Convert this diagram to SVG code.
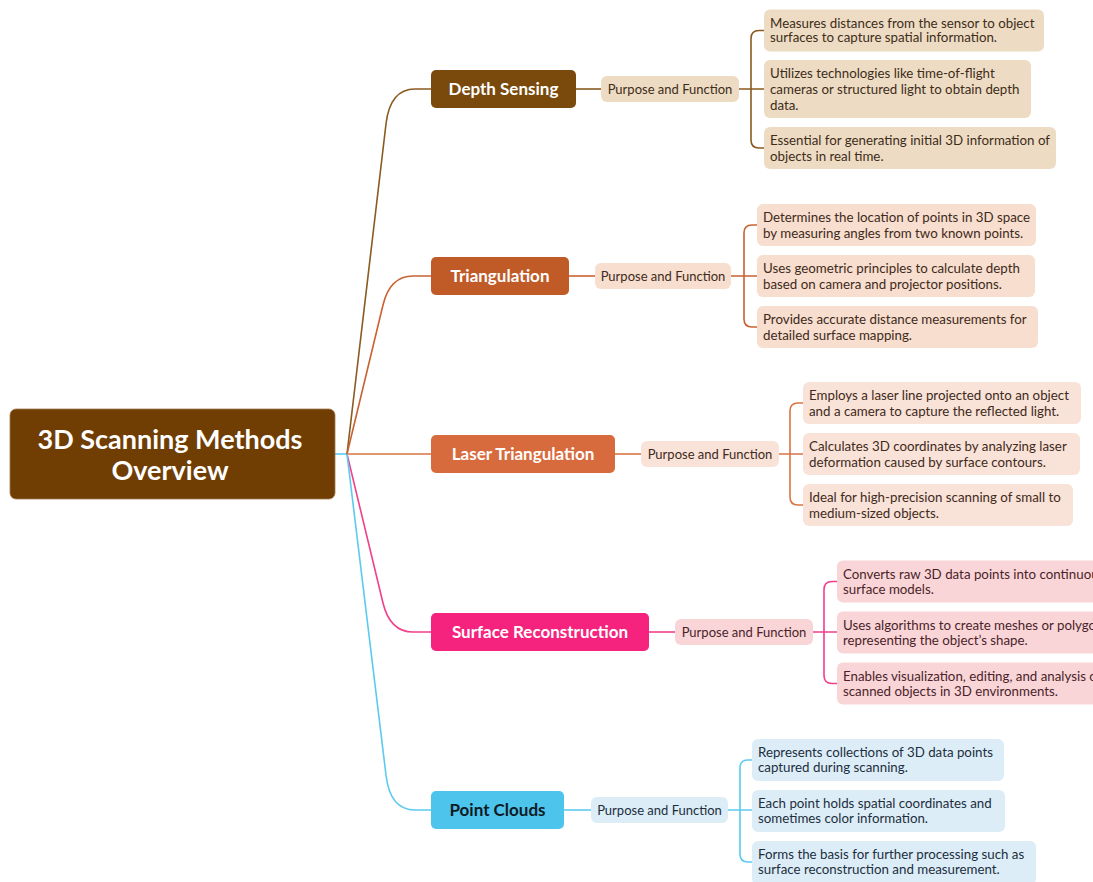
<svg xmlns="http://www.w3.org/2000/svg" width="1093" height="882" viewBox="0 0 1093 882">
<style>
  text { font-family: Lato, "Open Sans", "Liberation Sans", sans-serif; }
  .root-t { font-size: 27px; font-weight: 700; fill: #ffffff; text-anchor: middle; }
  .main-t { font-size: 17px; font-weight: 700; text-anchor: middle; }
  .pf-t { font-size: 13px; text-anchor: middle; }
  .leaf-t { font-size: 13.3px; }
  .conn { fill: none; stroke-width: 1.6; }
  .ds { fill: #eddcc3; } .ds-t { fill: #3e2c1a; } .ds-s { stroke: #8a5a20; }
  .tr { fill: #f7dece; } .tr-t { fill: #3e2a20; } .tr-s { stroke: #c86232; }
  .la { fill: #f9e2d7; } .la-t { fill: #3e2a20; } .la-s { stroke: #d97445; }
  .su { fill: #f9d5d7; } .su-t { fill: #4a1f2a; } .su-s { stroke: #f23f8a; }
  .pc { fill: #dcedf8; } .pc-t { fill: #1c2e3d; } .pc-s { stroke: #5ccaf0; }
</style>

<g id="connectors">
  <path class="conn pc-s" d="M335,454 H347"/>
  <path class="conn ds-s" d="M347,454 L386,124 Q390,89 415,89 H431"/>
  <path class="conn tr-s" d="M347,454 L383,305 Q390,276 413,276 H431"/>
  <path class="conn la-s" d="M347,454 H431"/>
  <path class="conn su-s" d="M347,454 L383,603 Q390,632 413,632 H431"/>
  <path class="conn pc-s" d="M347,454 L386,775 Q390,810 415,810 H431"/>

  <path class="conn ds-s" d="M576,89 H601"/>
  <path class="conn tr-s" d="M569,276 H595"/>
  <path class="conn la-s" d="M615,454 H641"/>
  <path class="conn su-s" d="M649,632 H675"/>
  <path class="conn pc-s" d="M564,810 H591"/>

  <path class="conn ds-s" d="M739,89 H764 M764,30.5 H759 Q751,30.5 751,38.5 V140 Q751,148 759,148 H764"/>
  <path class="conn tr-s" d="M731,276 H757 M757,225 H752 Q744,225 744,233 V319 Q744,327 752,327 H757"/>
  <path class="conn la-s" d="M779,454 H803 M803,403 H798 Q790,403 790,411 V497 Q790,505 798,505 H803"/>
  <path class="conn su-s" d="M813,632 H837 M837,581.5 H832 Q824,581.5 824,589.5 V675.5 Q824,683.5 832,683.5 H837"/>
  <path class="conn pc-s" d="M728,810 H752 M752,760 H748 Q740,760 740,768 V854 Q740,862 748,862 H752"/>
</g>

<g id="root">
  <rect x="10" y="409" width="325" height="90" rx="6" fill="#703d02" stroke="#a07850" stroke-width="0.8"/>
  <text class="root-t" x="170" y="449">3D Scanning Methods</text>
  <text class="root-t" x="170" y="480">Overview</text>
</g>

<!-- Depth Sensing -->
<g id="depth-sensing">
  <rect x="431" y="70" width="145" height="38" rx="5" fill="#7a4a0c"/>
  <text class="main-t" x="503.5" y="95" fill="#ffffff">Depth Sensing</text>
</g>
<g id="ds-pf">
  <rect class="ds" x="601" y="76" width="138" height="26" rx="6"/>
  <text class="pf-t ds-t" x="670" y="93.5">Purpose and Function</text>
</g>
<g id="ds-l1">
  <rect class="ds" x="764" y="9.5" width="280" height="42" rx="6"/>
  <text class="leaf-t ds-t" x="770" y="27.5">Measures distances from the sensor to object</text>
  <text class="leaf-t ds-t" x="770" y="42">surfaces to capture spatial information.</text>
</g>
<g id="ds-l2">
  <rect class="ds" x="764" y="60" width="267" height="58" rx="6"/>
  <text class="leaf-t ds-t" x="770" y="78">Utilizes technologies like time-of-flight</text>
  <text class="leaf-t ds-t" x="770" y="93.5">cameras or structured light to obtain depth</text>
  <text class="leaf-t ds-t" x="770" y="109.5">data.</text>
</g>
<g id="ds-l3">
  <rect class="ds" x="764" y="127" width="292" height="42" rx="6"/>
  <text class="leaf-t ds-t" x="770" y="145">Essential for generating initial 3D information of</text>
  <text class="leaf-t ds-t" x="770" y="160.5">objects in real time.</text>
</g>

<!-- Triangulation -->
<g id="triangulation">
  <rect x="431" y="257" width="138" height="38" rx="5" fill="#c05a27"/>
  <text class="main-t" x="500" y="282" fill="#ffffff">Triangulation</text>
</g>
<g id="tr-pf">
  <rect class="tr" x="595" y="263" width="136" height="26" rx="6"/>
  <text class="pf-t tr-t" x="663" y="280.5">Purpose and Function</text>
</g>
<g id="tr-l1">
  <rect class="tr" x="757" y="204" width="279" height="42" rx="6"/>
  <text class="leaf-t tr-t" x="763" y="222">Determines the location of points in 3D space</text>
  <text class="leaf-t tr-t" x="763" y="237.5">by measuring angles from two known points.</text>
</g>
<g id="tr-l2">
  <rect class="tr" x="757" y="255" width="278" height="42" rx="6"/>
  <text class="leaf-t tr-t" x="763" y="273">Uses geometric principles to calculate depth</text>
  <text class="leaf-t tr-t" x="763" y="288.5">based on camera and projector positions.</text>
</g>
<g id="tr-l3">
  <rect class="tr" x="757" y="306" width="281" height="42" rx="6"/>
  <text class="leaf-t tr-t" x="763" y="324">Provides accurate distance measurements for</text>
  <text class="leaf-t tr-t" x="763" y="339.5">detailed surface mapping.</text>
</g>

<!-- Laser Triangulation -->
<g id="laser-triangulation">
  <rect x="431" y="435" width="184" height="38" rx="5" fill="#d86b3d"/>
  <text class="main-t" x="523" y="460" fill="#ffffff">Laser Triangulation</text>
</g>
<g id="la-pf">
  <rect class="la" x="641" y="441" width="138" height="26" rx="6"/>
  <text class="pf-t la-t" x="710" y="458.5">Purpose and Function</text>
</g>
<g id="la-l1">
  <rect class="la" x="803" y="382" width="278" height="42" rx="6"/>
  <text class="leaf-t la-t" x="809" y="400">Employs a laser line projected onto an object</text>
  <text class="leaf-t la-t" x="809" y="415.5">and a camera to capture the reflected light.</text>
</g>
<g id="la-l2">
  <rect class="la" x="803" y="433" width="277" height="42" rx="6"/>
  <text class="leaf-t la-t" x="809" y="451">Calculates 3D coordinates by analyzing laser</text>
  <text class="leaf-t la-t" x="809" y="466.5">deformation caused by surface contours.</text>
</g>
<g id="la-l3">
  <rect class="la" x="803" y="484" width="270" height="42" rx="6"/>
  <text class="leaf-t la-t" x="809" y="502">Ideal for high-precision scanning of small to</text>
  <text class="leaf-t la-t" x="809" y="517.5">medium-sized objects.</text>
</g>

<!-- Surface Reconstruction -->
<g id="surface-reconstruction">
  <rect x="431" y="613" width="218" height="38" rx="5" fill="#f5237d"/>
  <text class="main-t" x="540" y="638" fill="#ffffff">Surface Reconstruction</text>
</g>
<g id="su-pf">
  <rect class="su" x="675" y="619" width="138" height="26" rx="6"/>
  <text class="pf-t su-t" x="744" y="636.5">Purpose and Function</text>
</g>
<g id="su-l1">
  <rect class="su" x="837" y="560.5" width="300" height="42" rx="6"/>
  <text class="leaf-t su-t" x="843" y="578.5">Converts raw 3D data points into continuous</text>
  <text class="leaf-t su-t" x="843" y="594">surface models.</text>
</g>
<g id="su-l2">
  <rect class="su" x="837" y="611.5" width="300" height="42" rx="6"/>
  <text class="leaf-t su-t" x="843" y="629.5">Uses algorithms to create meshes or polygons</text>
  <text class="leaf-t su-t" x="843" y="645">representing the object’s shape.</text>
</g>
<g id="su-l3">
  <rect class="su" x="837" y="662.5" width="300" height="42" rx="6"/>
  <text class="leaf-t su-t" x="843" y="680.5">Enables visualization, editing, and analysis of</text>
  <text class="leaf-t su-t" x="843" y="696">scanned objects in 3D environments.</text>
</g>

<!-- Point Clouds -->
<g id="point-clouds">
  <rect x="431" y="791" width="133" height="38" rx="5" fill="#4dc4ec"/>
  <text class="main-t" x="497.5" y="816" fill="#0e1a24">Point Clouds</text>
</g>
<g id="pc-pf">
  <rect class="pc" x="591" y="797" width="137" height="26" rx="6"/>
  <text class="pf-t pc-t" x="659.5" y="814.5">Purpose and Function</text>
</g>
<g id="pc-l1">
  <rect class="pc" x="752" y="739" width="252" height="42" rx="6"/>
  <text class="leaf-t pc-t" x="758" y="757">Represents collections of 3D data points</text>
  <text class="leaf-t pc-t" x="758" y="772">captured during scanning.</text>
</g>
<g id="pc-l2">
  <rect class="pc" x="752" y="790" width="253" height="42" rx="6"/>
  <text class="leaf-t pc-t" x="758" y="808">Each point holds spatial coordinates and</text>
  <text class="leaf-t pc-t" x="758" y="823">sometimes color information.</text>
</g>
<g id="pc-l3">
  <rect class="pc" x="752" y="841" width="284" height="44" rx="6"/>
  <text class="leaf-t pc-t" x="758" y="859">Forms the basis for further processing such as</text>
  <text class="leaf-t pc-t" x="758" y="874">surface reconstruction and measurement.</text>
</g>
</svg>
